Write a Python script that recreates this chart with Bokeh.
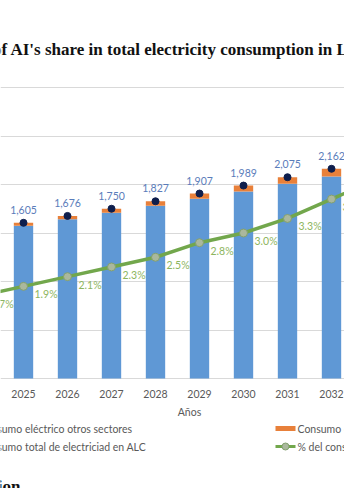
from bokeh.plotting import figure
from bokeh.models import Range1d, FixedTicker, ColumnDataSource, Grid
from bokeh.core.properties import value
from bokeh.embed import file_html
from bokeh.resources import INLINE

# ---------------- data ----------------
years = [2025, 2026, 2027, 2028, 2029, 2030, 2031, 2032]
total = [1605, 1676, 1750, 1827, 1907, 1989, 2075, 2162]
ai_use = [30, 35, 40, 46, 53, 60, 68, 80]
other_use = [1575, 1641, 1710, 1781, 1854, 1929, 2007, 2082]
total_labels = ["1,605", "1,676", "1,750", "1,827", "1,907", "1,989", "2,075", "2,162"]
year_labels = ["2025", "2026", "2027", "2028", "2029", "2030", "2031", "2032"]

pct_years = [2024, 2025, 2026, 2027, 2028, 2029, 2030, 2031, 2032, 2033]
pct_share = [1.7, 1.9, 2.1, 2.3, 2.5, 2.8, 3.0, 3.3, 3.7, 4.1]
pct_labels = ["1.7%", "1.9%", "2.1%", "2.3%", "2.5%", "2.8%", "3.0%", "3.3%", "3.7%", ""]

grid_ticks = [0, 500, 1000, 1500, 2000, 2500, 3000]

title_text = "of AI's share in total electricity consumption in LAC"
x_title = "Años"
leg_other = "Consumo eléctrico otros sectores"
leg_total = "Consumo total de electriciad en ALC"
leg_ai = "Consumo eléctrico de IA"
leg_pct = "% del consumo eléctrico de IA en el total"
next_heading = "Projection"

# ---------------- layout geometry ----------------
W, H = 344, 488
REF_X0, PX_YEAR = 23.0, 44.0          # x (px) of first year, px per year
REF_Y0, PX_UNIT = 378.0, 291.0 / 3000  # y (px) of zero, px per unit


def px2x(px):
    return years[0] + (px - REF_X0) / PX_YEAR


def py2y(py):
    return (REF_Y0 - py) / PX_UNIT


x_lo, x_hi = px2x(0), px2x(W)
y_lo, y_hi = py2y(H), py2y(0)
PCT_PER_UNIT = 1.0 / 500

p = figure(width=W, height=H, output_backend="svg", toolbar_location=None,
           x_range=Range1d(x_lo, x_hi), y_range=Range1d(y_lo, y_hi),
           x_axis_location=None, y_axis_location=None,
           min_border=0, min_border_left=0, min_border_right=0,
           min_border_top=0, min_border_bottom=0,
           outline_line_color=None, background_fill_color="white")
p.extra_y_ranges = {"pct": Range1d(y_lo * PCT_PER_UNIT, y_hi * PCT_PER_UNIT)}

p.center = [r for r in p.center if not isinstance(r, Grid)]
p.add_layout(Grid(dimension=1, ticker=FixedTicker(ticks=grid_ticks),
                  grid_line_color="#d9d9d9", grid_line_width=1), "center")

src = ColumnDataSource(dict(years=years, other=other_use, ai=ai_use,
                            total=total, tl=total_labels, yl=year_labels,
                            zero=[0] * len(years)))

FONT = value("Lato")
BLUE = "#5f98d5"
ORANGE = "#e8803a"
GREEN = "#72a74c"

# stacked bars
p.vbar_stack(["other", "ai"], x="years", width=0.44, source=src,
             color=[BLUE, ORANGE], line_color=None)

# total consumption dots
p.scatter("years", "total", source=src, size=7, color="#0e1e4c")

# share line (secondary scale)
psrc = ColumnDataSource(dict(x=pct_years, y=pct_share, t=pct_labels))
p.line("x", "y", source=psrc, y_range_name="pct", line_color=GREEN,
       line_width=3.5)
p.scatter("x", "y", source=psrc, y_range_name="pct", size=8,
          fill_color="#aab89d", line_color="#83a06f", line_width=1)

# data labels
p.text("years", "total", text="tl", source=src, y_offset=-13,
       text_align="center", text_baseline="middle", text_font=FONT,
       text_font_size="10.5px", text_color="#5a7cba")
p.text("x", "y", text="t", source=psrc, y_range_name="pct", x_offset=11,
       y_offset=8, text_align="left", text_baseline="middle", text_font=FONT,
       text_font_size="10.5px", text_color="#8db55e")

# category labels and axis title
p.text("years", "zero", text="yl", source=src, y_offset=15,
       text_align="center", text_baseline="middle", text_font=FONT,
       text_font_size="10.5px", text_color="#595959")
p.text(x=[px2x(189)], y=[0], text=[x_title], y_offset=33, text_align="center",
       text_baseline="middle", text_font=FONT, text_font_size="10.5px",
       text_color="#595959")

# legend (drawn by hand, cropped like the reference)
p.quad(left=[px2x(-50)], right=[px2x(-30)], top=[py2y(425.5)],
       bottom=[py2y(430.5)], color=BLUE, line_color=None)
p.text(x=[px2x(-22), px2x(-22)], y=[0, 0], text=[leg_other, leg_total],
       y_offset=[50, 68], text_align="left", text_baseline="middle",
       text_font=FONT, text_font_size="10.5px", text_color="#595959")
p.quad(left=[px2x(275)], right=[px2x(295)], top=[py2y(425.5)],
       bottom=[py2y(430.5)], color=ORANGE, line_color=None)
p.line(x=[px2x(275), px2x(295)], y=[py2y(446), py2y(446)],
       line_color=GREEN, line_width=3)
p.scatter(x=[px2x(285)], y=[py2y(446)], size=7, fill_color="#aab89d",
          line_color="#83a06f")
p.text(x=[px2x(297), px2x(297)], y=[0, 0], text=[leg_ai, leg_pct],
       y_offset=[50, 68], text_align="left", text_baseline="middle",
       text_font=FONT, text_font_size="10.5px", text_color="#595959")

# surrounding document text
SERIF = value("Liberation Serif")
p.text(x=[px2x(-7.5)], y=[py2y(49)], text=[title_text], text_align="left",
       text_baseline="alphabetic", text_font=SERIF, text_font_size="17px",
       text_font_style="bold", text_color="#111111")
p.text(x=[px2x(20)], y=[py2y(486)], text=[next_heading], text_align="right",
       text_baseline="alphabetic", text_font=SERIF, text_font_size="17px",
       text_font_style="bold", text_color="#111111")

open("out.html", "w").write(file_html(p, INLINE))
